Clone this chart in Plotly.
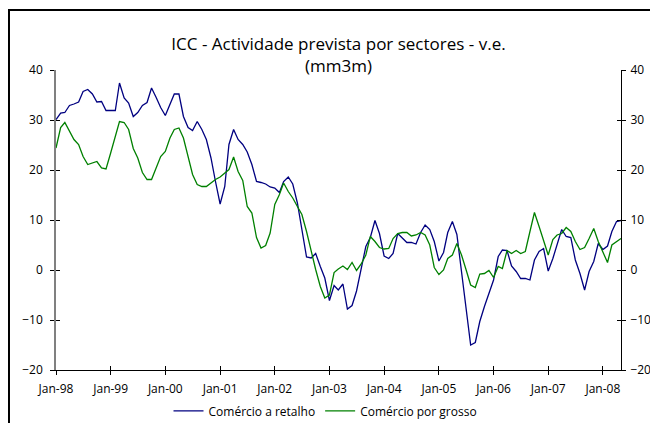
import pandas as pd
import plotly.graph_objects as go

dates = pd.date_range("1998-01-01", "2008-05-01", freq="MS")

retalho = [30.1, 31.4, 31.5, 32.9, 33.2, 33.6, 35.7, 36.1, 35.2, 33.6,
           33.7, 31.9, 31.9, 31.9, 37.4, 34.4, 33.4, 30.7, 31.5, 32.9,
           33.5, 36.4, 34.5, 32.5, 30.9, 33.1, 35.2, 35.2, 30.7, 28.5,
           27.9, 29.7, 28.1, 26.1, 22.4, 17.7, 13.2, 16.7, 25.1, 28.1,
           26.1, 25.1, 23.6, 21.1, 17.7, 17.5, 17.2, 16.6, 16.4, 15.5,
           17.7, 18.6, 17.2, 13.4, 7.7, 2.6, 2.4, 3.3, 0.7, -1.6,
           -6.1, -3.1, -4.0, -2.8, -7.8, -7.1, -4.2, 0.0, 4.7, 6.5,
           9.9, 7.3, 2.8, 2.3, 3.3, 7.3, 6.5, 5.5, 5.5, 5.2,
           7.5, 9.0, 8.1, 5.7, 1.8, 3.5, 7.5, 9.7, 7.1, -0.7,
           -8.0, -15.0, -14.5, -10.3, -7.3, -4.7, -2.0, 2.7, 4.0, 3.9,
           0.8, -0.3, -1.7, -1.7, -2.0, 2.0, 3.7, 4.3, -0.2, 2.3,
           5.0, 8.1, 6.7, 6.5, 2.0, -0.7, -4.0, -0.3, 1.7, 5.3,
           4.1, 4.8, 7.7, 9.7, 9.9]

grosso = [24.4, 28.5, 29.5, 27.9, 26.1, 25.1, 22.7, 21.1, 21.4, 21.7,
          20.4, 20.2, 23.4, 26.7, 29.7, 29.5, 28.1, 24.3, 22.4, 19.5,
          18.1, 18.1, 20.5, 22.7, 23.7, 26.4, 28.1, 28.4, 26.4, 22.7,
          19.1, 17.1, 16.7, 16.7, 17.4, 18.1, 18.6, 19.4, 20.1, 22.6,
          19.7, 17.9, 12.7, 11.4, 6.5, 4.4, 4.9, 7.4, 13.1, 15.1,
          17.4, 15.7, 14.4, 12.7, 11.1, 7.7, 3.7, 0.1, -3.3, -5.6,
          -5.0, -0.5, 0.2, 0.8, 0.1, 1.5, -0.1, 1.2, 3.0, 6.7,
          5.7, 4.5, 4.2, 4.3, 6.3, 7.3, 7.5, 7.5, 6.8, 7.0,
          7.5, 7.0, 5.0, 0.5, -0.9, 0.0, 2.3, 3.0, 5.3, 3.0,
          0.1, -3.0, -3.5, -0.8, -0.7, -0.1, -1.5, 0.7, 0.3, 3.9,
          3.3, 3.9, 3.3, 3.7, 7.7, 11.5, 8.7, 6.0, 3.0, 6.1,
          7.0, 7.3, 8.5, 7.7, 5.7, 4.1, 4.5, 6.3, 8.3, 5.7,
          3.7, 1.5, 5.0, 5.7, 6.3]

series_names = ["Comércio a retalho", "Comércio por grosso"]
series_colors = ["#000080", "#008000"]
title_text = "ICC - Actividade prevista por sectores - v.e.<br>(mm3m)"
y_range = [-20, 40]
x_range = ["1998-01-01", "2008-05-01"]

FONT = "Open Sans"

fig = go.Figure()
fig.add_trace(go.Scatter(x=dates, y=retalho, name=series_names[0], mode="lines",
                         line=dict(color=series_colors[0], width=1.3)))
fig.add_trace(go.Scatter(x=dates, y=grosso, name=series_names[1], mode="lines",
                         line=dict(color=series_colors[1], width=1.3)))
# helper invisible traces so the extra axes get drawn
fig.add_trace(go.Scatter(x=[dates[0]], y=[None], xaxis="x", yaxis="y2",
                         showlegend=False, hoverinfo="skip", mode="lines"))
fig.add_trace(go.Scatter(x=[dates[0]], y=[None], xaxis="x2", yaxis="y3",
                         showlegend=False, hoverinfo="skip", mode="lines"))
fig.add_trace(go.Scatter(x=[dates[0]], y=[None], xaxis="x2", yaxis="y4",
                         showlegend=False, hoverinfo="skip", mode="lines"))

tickfont = dict(family=FONT, size=12, color="black")

# page body has an 8px margin: figure is 650x415 so that it fills the window
fig.update_layout(
    width=650, height=415,
    margin=dict(l=48, r=37, t=62, b=53, autoexpand=False),
    paper_bgcolor="white", plot_bgcolor="white",
    title=dict(text=title_text, x=0.5, xref="paper", xanchor="center",
               y=0.898, yref="container", yanchor="middle",
               font=dict(family=FONT, size=17, color="black")),
    showlegend=True,
    legend=dict(orientation="h", x=0.477, xanchor="center",
                y=0.029, yref="container", yanchor="middle",
                font=dict(family=FONT, size=12, color="black"),
                bgcolor="rgba(0,0,0,0)", tracegroupgap=0),
    xaxis=dict(type="date", range=x_range, showgrid=False, zeroline=False,
               showline=True, linecolor="black", linewidth=1,
               ticks="outside", ticklen=4, tickcolor="black",
               tick0="1998-01-01", dtick="M12", tickformat="%b-%y",
               tickfont=tickfont, ticklabelstandoff=4, anchor="y",
               automargin=False),
    xaxis2=dict(type="date", range=x_range, overlaying="x", showgrid=False,
                zeroline=False, showline=False, ticks="inside", ticklen=4,
                tickcolor="black", tick0="1998-01-01", dtick="M12",
                showticklabels=False, anchor="y3", side="bottom",
                automargin=False),
    yaxis=dict(range=y_range, dtick=10, showgrid=False, zeroline=False,
               showline=True, linecolor="#808080", linewidth=1.5,
               ticks="outside", ticklen=4, tickcolor="black",
               tickfont=tickfont, ticklabelstandoff=5, anchor="x",
               automargin=False),
    yaxis2=dict(range=y_range, dtick=10, overlaying="y", side="right",
                showgrid=False, zeroline=False, showline=True,
                linecolor="black", linewidth=1, ticks="outside", ticklen=4,
                tickcolor="black", tickfont=tickfont, ticklabelstandoff=2,
                anchor="x", automargin=False),
    yaxis3=dict(range=y_range, dtick=10, overlaying="y", side="left",
                showgrid=False, zeroline=False, showline=False,
                ticks="inside", ticklen=4, tickcolor="black",
                showticklabels=False, anchor="x2", automargin=False),
    yaxis4=dict(range=y_range, dtick=10, overlaying="y", side="right",
                showgrid=False, zeroline=False, showline=False,
                ticks="inside", ticklen=4, tickcolor="black",
                showticklabels=False, anchor="x2", automargin=False),
    shapes=[dict(type="rect", xref="paper", yref="paper",
                 x0=-0.0832, x1=1.2, y0=-0.3, y1=1.2,
                 line=dict(color="black", width=2), fillcolor="rgba(0,0,0,0)",
                 layer="below")],
)

fig.write_html("out.html")
